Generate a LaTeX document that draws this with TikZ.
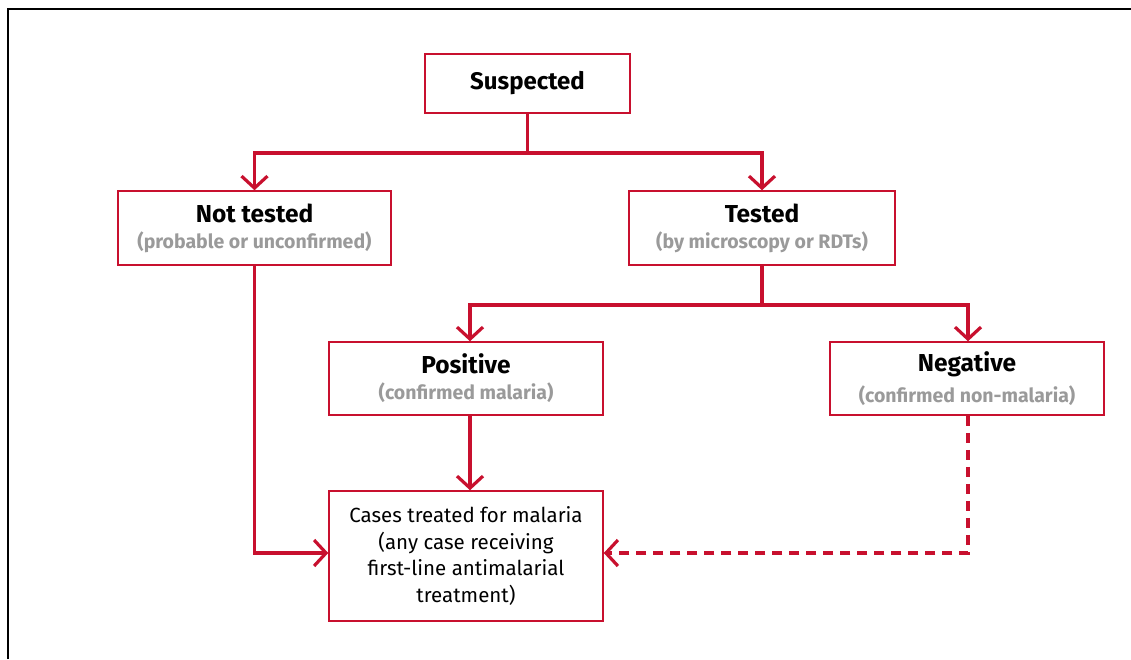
\documentclass[tikz,border=0pt]{standalone}
\usepackage{fontspec}
\setmainfont{Fira Sans}
\usetikzlibrary{arrows.meta}
\definecolor{linered}{HTML}{C8102E}
\definecolor{subgrey}{HTML}{9A9A9A}
\tikzset{
  box/.style={draw=linered, line width=1.5pt, fill=white, inner sep=0pt, align=center, anchor=center},
  conn/.style={draw=linered, line width=3.2pt, line join=miter, -{Straight Barb[length=12pt, width=26pt, line width=3.2pt]}},
  trunk/.style={draw=linered, line width=3.2pt},
  dashconn/.style={conn, dash pattern=on 10pt off 7pt},
}
\newcommand{\boxtitle}[2]{{\fontsize{24.5}{26}\selectfont\bfseries #1}\\[8pt]{\fontsize{19.5}{21}\selectfont\bfseries\color{subgrey}#2}}
\begin{document}
\begin{tikzpicture}[x=1pt, y=-1pt]
\useasboundingbox (0,0) rectangle (1131,659);
\draw[line width=2pt] (8,659) -- (8,9) -- (1131,9);

\node[box, minimum width=205pt, minimum height=59pt, font=\fontsize{24}{26}\selectfont\bfseries] (susp) at (527.5,83.5) {Suspected};
\node[box, minimum width=273pt, minimum height=74pt] (nt) at (254.5,228) {\boxtitle{Not tested}{(probable or unconfirmed)}};
\node[box, minimum width=266pt, minimum height=74pt] (te) at (762,228) {\boxtitle{Tested}{(by microscopy or RDTs)}};
\node[box, minimum width=274pt, minimum height=73pt] (pos) at (466,378.5) {\boxtitle{Positive}{(confirmed malaria)}};
\node[box, minimum width=274pt, minimum height=73pt] (neg) at (967,378.5) {\boxtitle{Negative}{(confirmed non-malaria)}};
\node[box, minimum width=274pt, minimum height=130pt, font=\fontsize{20.5}{26.5}\selectfont] (cas) at (466,556) {Cases treated for malaria\\(any case receiving\\first-line antimalarial\\treatment)};

\coordinate (j1) at (527.5,153);
\coordinate (j2) at (762,305);
\draw[trunk] (susp.south) -- (j1);
\draw[conn] (j1) -| (nt.north);
\draw[conn] (j1) -| (te.north);
\draw[trunk] (te.south) -- (j2);
\draw[conn] (j2) -| ([xshift=4pt]pos.north);
\draw[conn] (j2) -| ([xshift=1pt]neg.north);
\draw[conn] ([xshift=4pt]pos.south) -- ([xshift=4pt]pos.south |- cas.north);
\draw[conn] (nt.south) |- (cas.west |- 0,553);
\draw[dashconn] ([xshift=1pt]neg.south) |- (cas.east |- 0,553);
\end{tikzpicture}
\end{document}
